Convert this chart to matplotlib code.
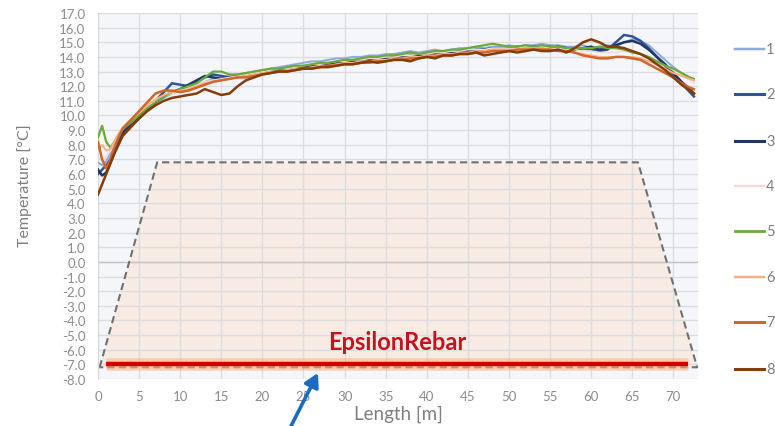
import matplotlib
matplotlib.use("Agg")
import matplotlib.pyplot as plt
from matplotlib.lines import Line2D
from matplotlib.patches import Polygon

plt.rcParams["font.family"] = ["Lato", "DejaVu Sans"]

# Sampling positions along the cable [m]
length_m = [0, 0.5, 1, 1.5, 2, 2.5, 3,
            4, 5, 6, 7, 8, 9, 10, 11, 12, 13,
            14, 15, 16, 17, 18, 19, 20, 21, 22, 23,
            24, 25, 26, 27, 28, 29, 30, 31, 32, 33,
            34, 35, 36, 37, 38, 39, 40, 41, 42, 43,
            44, 45, 46, 47, 48, 49, 50, 51, 52, 53,
            54, 55, 56, 57, 58, 59, 60, 61, 62, 63,
            64, 65, 66, 67, 68, 69, 70, 71, 72,
            72.5]

# Temperature profiles [°C] for the eight measurement runs
run_1 = [6.8, 6.6, 6.9, 7.4, 7.9, 8.5, 9.0,
         9.5, 10.0, 10.5, 10.9, 11.2, 11.5, 11.7, 11.9, 12.1, 12.3,
         12.5, 12.6, 12.7, 12.8, 12.9, 13.0, 13.1, 13.2, 13.3, 13.4,
         13.5, 13.6, 13.7, 13.7, 13.8, 13.9, 13.9, 14.0, 14.0, 14.1,
         14.1, 14.2, 14.2, 14.3, 14.4, 14.3, 14.4, 14.5, 14.4, 14.5,
         14.6, 14.6, 14.7, 14.6, 14.7, 14.7, 14.8, 14.7, 14.8, 14.8,
         14.9, 14.8, 14.8, 14.7, 14.7, 14.8, 14.6, 14.7, 14.8, 14.7,
         15.0, 15.2, 15.1, 14.8, 14.3, 13.8, 13.3, 12.9, 12.6,
         12.4]
run_2 = [6.0, 6.3, 6.6, 7.0, 7.6, 8.2, 8.8,
         9.3, 9.8, 10.4, 11.0, 11.6, 12.2, 12.1, 12.0, 12.3, 12.6,
         12.8, 12.7, 12.6, 12.7, 12.8, 12.9, 13.0, 13.1, 13.1, 13.2,
         13.3, 13.3, 13.4, 13.5, 13.5, 13.6, 13.7, 13.7, 13.8, 13.8,
         13.9, 13.9, 14.0, 14.0, 14.1, 14.1, 14.2, 14.2, 14.3, 14.3,
         14.4, 14.4, 14.5, 14.5, 14.6, 14.6, 14.6, 14.7, 14.7, 14.7,
         14.7, 14.7, 14.6, 14.6, 14.5, 14.6, 14.5, 14.4, 14.5, 15.0,
         15.5, 15.4, 15.1, 14.6, 14.0, 13.4, 12.8, 12.2, 11.6,
         11.3]
run_3 = [6.3, 5.9, 6.1, 6.8, 7.5, 8.2, 8.8,
         9.4, 9.9, 10.4, 10.9, 11.3, 11.6, 11.8, 12.1, 12.4, 12.7,
         12.6, 12.5, 12.6, 12.7, 12.8, 12.9, 13.0, 13.0, 13.1, 13.2,
         13.2, 13.3, 13.4, 13.4, 13.5, 13.6, 13.6, 13.7, 13.7, 13.8,
         13.8, 13.9, 13.9, 14.0, 14.0, 14.1, 14.1, 14.2, 14.2, 14.3,
         14.3, 14.4, 14.4, 14.5, 14.5, 14.5, 14.6, 14.6, 14.6, 14.7,
         14.6, 14.6, 14.7, 14.6, 14.5, 14.6, 14.7, 14.5, 14.6, 14.8,
         15.0, 15.1, 14.9, 14.5, 14.0, 13.5, 12.9, 12.3, 11.8,
         11.5]
run_4 = [7.2, 7.0, 7.2, 7.6, 8.1, 8.6, 9.1,
         9.6, 10.1, 10.6, 11.0, 11.3, 11.5, 11.7, 11.9, 12.1, 12.3,
         12.4, 12.5, 12.6, 12.7, 12.8, 12.9, 13.0, 13.1, 13.2, 13.2,
         13.3, 13.4, 13.5, 13.5, 13.6, 13.7, 13.7, 13.8, 13.8, 13.9,
         13.9, 14.0, 14.0, 14.1, 14.1, 14.2, 14.2, 14.3, 14.3, 14.4,
         14.4, 14.5, 14.5, 14.5, 14.6, 14.6, 14.6, 14.6, 14.7, 14.7,
         14.7, 14.6, 14.6, 14.5, 14.5, 14.4, 14.4, 14.3, 14.3, 14.3,
         14.4, 14.4, 14.2, 14.0, 13.7, 13.4, 13.1, 12.8, 12.4,
         12.2]
run_5 = [8.5, 9.3, 8.2, 7.8, 8.2, 8.7, 9.1,
         9.5, 10.0, 10.5, 10.9, 11.3, 11.6, 11.8, 12.0, 12.2, 12.6,
         13.0, 13.0, 12.8, 12.8, 12.9, 13.0, 13.1, 13.2, 13.2, 13.3,
         13.4, 13.4, 13.5, 13.6, 13.6, 13.7, 13.8, 13.8, 13.9, 14.0,
         14.0, 14.1, 14.1, 14.2, 14.3, 14.2, 14.3, 14.4, 14.4, 14.5,
         14.5, 14.6, 14.7, 14.8, 14.9, 14.8, 14.7, 14.7, 14.8, 14.7,
         14.8, 14.7, 14.7, 14.6, 14.6, 14.6, 14.6, 14.7, 14.6, 14.6,
         14.5, 14.3, 14.2, 14.0, 13.7, 13.4, 13.2, 12.9, 12.6,
         12.5]
run_6 = [7.6, 8.0, 7.6, 7.7, 8.2, 8.7, 9.2,
         9.7, 10.2, 10.7, 11.1, 11.4, 11.6, 11.7, 11.8, 12.0, 12.2,
         12.3, 12.4, 12.5, 12.6, 12.7, 12.8, 12.9, 13.0, 13.0, 13.1,
         13.2, 13.2, 13.3, 13.4, 13.4, 13.5, 13.6, 13.6, 13.7, 13.7,
         13.8, 13.8, 13.9, 13.9, 14.0, 14.0, 14.1, 14.1, 14.2, 14.2,
         14.3, 14.3, 14.4, 14.4, 14.5, 14.5, 14.5, 14.5, 14.6, 14.6,
         14.6, 14.5, 14.5, 14.4, 14.3, 14.2, 14.1, 14.0, 14.0, 14.0,
         14.0, 14.0, 13.9, 13.7, 13.5, 13.2, 12.9, 12.7, 12.5,
         12.4]
run_7 = [8.2, 7.0, 6.4, 7.0, 7.8, 8.5, 9.1,
         9.7, 10.3, 10.9, 11.5, 11.7, 11.7, 11.6, 11.7, 11.9, 12.1,
         12.3, 12.4, 12.5, 12.6, 12.6, 12.7, 12.8, 12.9, 13.0, 13.0,
         13.1, 13.2, 13.2, 13.3, 13.4, 13.4, 13.5, 13.5, 13.6, 13.6,
         13.7, 13.7, 13.8, 13.8, 13.9, 13.9, 14.0, 14.0, 14.1, 14.1,
         14.2, 14.2, 14.3, 14.3, 14.4, 14.4, 14.4, 14.5, 14.5, 14.5,
         14.5, 14.5, 14.4, 14.4, 14.3, 14.1, 14.0, 13.9, 13.9, 14.0,
         14.0, 13.9, 13.8, 13.5, 13.2, 12.9, 12.6, 12.2, 11.9,
         11.8]
run_8 = [4.6, 5.3, 6.0, 6.7, 7.4, 8.0, 8.6,
         9.2, 9.8, 10.3, 10.7, 11.0, 11.2, 11.3, 11.4, 11.5, 11.8,
         11.6, 11.4, 11.5, 12.0, 12.4, 12.6, 12.8, 12.9, 13.0, 13.0,
         13.1, 13.2, 13.2, 13.3, 13.3, 13.4, 13.5, 13.5, 13.6, 13.7,
         13.6, 13.7, 13.8, 13.8, 13.7, 13.9, 14.0, 13.9, 14.1, 14.1,
         14.2, 14.2, 14.3, 14.1, 14.2, 14.3, 14.4, 14.3, 14.4, 14.5,
         14.4, 14.4, 14.5, 14.3, 14.6, 15.0, 15.2, 15.0, 14.7, 14.7,
         14.6, 14.4, 14.2, 13.9, 13.5, 13.1, 12.6, 12.1, 11.7,
         11.5]

run_labels = ["1", "2", "3", "4", "5", "6", "7", "8"]
runs = [run_1, run_2, run_3, run_4, run_5, run_6, run_7, run_8]
run_colors = ["#8faadc", "#2f5597", "#1f3864", "#f6d9d9",
              "#6aaa3a", "#f4b183", "#d0662a", "#843c0c"]
run_widths = [1.4, 1.8, 1.8, 1.2, 1.6, 1.4, 1.8, 1.8]

# Outline of the concrete element (trapezoid) and the rebar level
element_x = [0.2, 7.2, 65.7, 72.9]
element_y = [-7.2, 6.8, 6.8, -7.2]
rebar_x = [1.0, 71.8]
rebar_y = [-7.0, -7.0]

x_ticks = [0, 5, 10, 15, 20, 25, 30, 35, 40, 45, 50, 55, 60, 65, 70]
y_ticks = [-8, -7, -6, -5, -4, -3, -2, -1, 0, 1, 2, 3, 4, 5, 6, 7, 8,
           9, 10, 11, 12, 13, 14, 15, 16, 17]

W, H = 775, 427
fig = plt.figure(figsize=(W / 100, H / 100), dpi=100)
fig.patch.set_facecolor("white")
ax = fig.add_axes([98 / W, 1 - 380 / H, (698 - 98) / W, (380 - 14) / H])
ax.set_facecolor("#f4f6f9")
ax.set_xlim(0, 73)
ax.set_ylim(-8, 17)

ax.set_xticks(x_ticks)
ax.set_yticks(y_ticks)
ax.set_yticklabels([f"{v:.1f}" for v in y_ticks])
ax.tick_params(length=0, colors="#8c8c8c", labelsize=9.5)
ax.tick_params(axis="y", pad=9)
ax.tick_params(axis="x", pad=8)
ax.set_axisbelow(True)
ax.grid(True, color="#dcdde1", linewidth=1.0)
for s in ["top", "right", "bottom"]:
    ax.spines[s].set_visible(False)
ax.spines["left"].set_color("#d5d7db")
ax.axhline(0, color="#c4c4c4", linewidth=1.0, zorder=0.6)

# Element body
poly = Polygon(list(zip(element_x, element_y)), closed=True,
               facecolor="#fbe3d2", alpha=0.55, edgecolor="none", zorder=0.3)
ax.add_patch(poly)
ax.plot(element_x + [element_x[0]], element_y + [element_y[0]],
        color="#707070", linestyle=(0, (3.5, 2)), linewidth=1.5, zorder=2)

# Rebar with glow
ax.plot(rebar_x, rebar_y, color="#f9b27a", linewidth=9, alpha=0.55,
        solid_capstyle="butt", zorder=2.5)
ax.plot(rebar_x, rebar_y, color="#d40000", linewidth=3.2,
        solid_capstyle="butt", zorder=2.6)
ax.text(36.4, -5.45, "EpsilonRebar", color="#c3141f", fontsize=17,
        fontweight="bold", ha="center", va="center", zorder=3)

# Temperature profiles
for lab, vals, col, lw in zip(run_labels, runs, run_colors, run_widths):
    ax.plot(length_m, vals, color=col, linewidth=lw, label=lab, zorder=4)

fig.text(25 / W, 1 - 186 / H, "Temperature [°C]", color="#7f7f7f",
         fontsize=11.5, rotation=90, ha="center", va="center")
ax.set_xlabel("Length [m]", color="#7f7f7f", fontsize=13.5, labelpad=2)

# Legend drawn on the right margin
legend_y = [50, 95, 142, 187, 232, 278, 323, 370]
for lab, col, lw, yp in zip(run_labels, run_colors, run_widths, legend_y):
    fig.add_artist(Line2D([735 / W, 764 / W], [1 - yp / H, 1 - yp / H],
                          color=col, linewidth=lw + 0.4))
    fig.text(766 / W, 1 - yp / H, lab, color="#7f7f7f", fontsize=10.5,
             ha="left", va="center")

# Pointer to the rebar
ax.annotate("", xy=(318, H - 374), xycoords="figure pixels",
            xytext=(289, -4), textcoords="figure pixels",
            arrowprops=dict(arrowstyle="-|>,head_length=0.8,head_width=0.45",
                            color="#1a6cc0", linewidth=2.6,
                            shrinkA=0, shrinkB=0),
            annotation_clip=False)

fig.savefig("out.png", dpi=100)
